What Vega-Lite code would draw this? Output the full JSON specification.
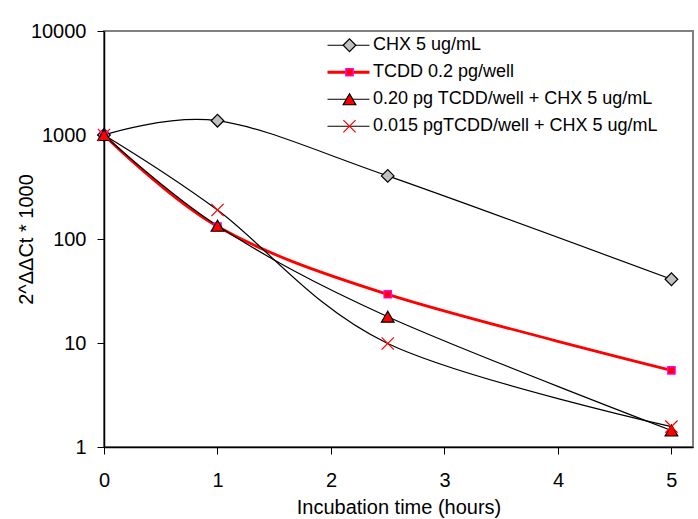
{
  "$schema": "https://vega.github.io/schema/vega-lite/v6.json",
  "width": 589,
  "height": 416,
  "autosize": "none",
  "padding": {"left": 104, "top": 31, "right": 5, "bottom": 72},
  "background": "white",
  "config": {
    "font": "Liberation Sans",
    "view": {"stroke": "#808080", "strokeWidth": 2},
    "axis": {
      "grid": false,
      "domainColor": "black",
      "domainWidth": 1.5,
      "tickColor": "black",
      "tickWidth": 1,
      "tickSize": 7,
      "labelColor": "black",
      "titleColor": "black",
      "labelFont": "Liberation Sans",
      "titleFont": "Liberation Sans",
      "labelFontSize": 20,
      "titleFontSize": 20,
      "titleFontWeight": "normal",
      "labelFlush": false,
      "labelOverlap": false
    },
    "legend": {
      "labelFont": "Liberation Sans",
      "labelFontSize": 18,
      "labelColor": "black"
    }
  },
  "data": {
    "values": [
      {"t": 0, "v": 1000, "s": "CHX 5 ug/mL"},
      {"t": 1, "v": 1372, "s": "CHX 5 ug/mL"},
      {"t": 2.5, "v": 404, "s": "CHX 5 ug/mL"},
      {"t": 5, "v": 41, "s": "CHX 5 ug/mL"},
      {"t": 0, "v": 1000, "s": "TCDD 0.2 pg/well"},
      {"t": 1, "v": 132, "s": "TCDD 0.2 pg/well"},
      {"t": 2.5, "v": 29.4, "s": "TCDD 0.2 pg/well"},
      {"t": 5, "v": 5.46, "s": "TCDD 0.2 pg/well"},
      {"t": 0, "v": 1000, "s": "0.20 pg TCDD/well + CHX 5 ug/mL"},
      {"t": 1, "v": 134, "s": "0.20 pg TCDD/well + CHX 5 ug/mL"},
      {"t": 2.5, "v": 17.9, "s": "0.20 pg TCDD/well + CHX 5 ug/mL"},
      {"t": 5, "v": 1.44, "s": "0.20 pg TCDD/well + CHX 5 ug/mL"},
      {"t": 0, "v": 1000, "s": "0.015 pgTCDD/well + CHX 5 ug/mL"},
      {"t": 1, "v": 190, "s": "0.015 pgTCDD/well + CHX 5 ug/mL"},
      {"t": 2.5, "v": 9.9, "s": "0.015 pgTCDD/well + CHX 5 ug/mL"},
      {"t": 5, "v": 1.57, "s": "0.015 pgTCDD/well + CHX 5 ug/mL"}
    ]
  },
  "encoding": {
    "x": {
      "field": "t",
      "type": "quantitative",
      "scale": {"domain": [0, 5.19], "nice": false, "zero": false},
      "axis": {
        "values": [0, 1, 2, 3, 4, 5],
        "format": "d",
        "labelPadding": 16,
        "labelBaseline": "top",
        "title": "Incubation time (hours)",
        "titleY": 66,
        "titleBaseline": "alphabetic"
      }
    },
    "y": {
      "field": "v",
      "type": "quantitative",
      "scale": {"type": "log", "domain": [1, 10000], "nice": false},
      "axis": {
        "values": [1, 10, 100, 1000, 10000],
        "format": "d",
        "labelPadding": 11,
        "labelBaseline": "middle",
        "title": "2^ΔΔCt * 1000",
        "titleAngle": -90,
        "titleX": -72,
        "titleY": 208,
        "titleAlign": "center",
        "titleBaseline": "alphabetic"
      }
    }
  },
  "layer": [
    {
      "mark": {"type": "line", "interpolate": "cardinal", "clip": false},
      "encoding": {
        "color": {
          "field": "s",
          "type": "nominal",
          "sort": null,
          "scale": {"range": ["black", "#ff0000", "black", "black"]},
          "legend": {
            "orient": "none",
            "legendX": 222,
            "legendY": 1,
            "title": null,
            "symbolType": "stroke",
            "symbolSize": 1764,
            "clipHeight": 26.5,
            "rowPadding": 0,
            "padding": 0,
            "labelOffset": 2,
            "labelLimit": 400
          }
        },
        "strokeWidth": {
          "field": "s",
          "type": "nominal",
          "sort": null,
          "scale": {"type": "ordinal", "range": [1.2, 2.8, 1.2, 1.2]}
        }
      }
    },
    {
      "mark": {"type": "point", "opacity": 1, "strokeWidth": 1.2, "clip": false},
      "encoding": {
        "shape": {
          "field": "s",
          "type": "nominal",
          "scale": {
            "domain": ["CHX 5 ug/mL", "TCDD 0.2 pg/well", "0.20 pg TCDD/well + CHX 5 ug/mL", "0.015 pgTCDD/well + CHX 5 ug/mL"],
            "range": ["diamond", "square", "triangle-up", "M-1,-1L1,1M-1,1L1,-1"]
          },
          "legend": {
            "orient": "none",
            "legendX": 236.5,
            "legendY": 1,
            "title": null,
            "clipHeight": 26.5,
            "rowPadding": 0,
            "padding": 0,
            "labelOffset": 0,
            "labelExpr": "''",
            "symbolOpacity": 1,
            "symbolStrokeWidth": 1.2
          }
        },
        "fill": {
          "field": "s",
          "type": "nominal",
          "scale": {
            "domain": ["CHX 5 ug/mL", "TCDD 0.2 pg/well", "0.20 pg TCDD/well + CHX 5 ug/mL", "0.015 pgTCDD/well + CHX 5 ug/mL"],
            "range": ["#c0c0c0", "#ff0000", "#ff0000", "transparent"]
          }
        },
        "stroke": {
          "field": "s",
          "type": "nominal",
          "scale": {
            "domain": ["CHX 5 ug/mL", "TCDD 0.2 pg/well", "0.20 pg TCDD/well + CHX 5 ug/mL", "0.015 pgTCDD/well + CHX 5 ug/mL"],
            "range": ["black", "#ff00ff", "black", "#ff0000"]
          }
        },
        "size": {
          "field": "s",
          "type": "nominal",
          "scale": {
            "type": "ordinal",
            "domain": ["CHX 5 ug/mL", "TCDD 0.2 pg/well", "0.20 pg TCDD/well + CHX 5 ug/mL", "0.015 pgTCDD/well + CHX 5 ug/mL"],
            "range": [160, 55, 160, 150]
          }
        }
      }
    }
  ]
}
